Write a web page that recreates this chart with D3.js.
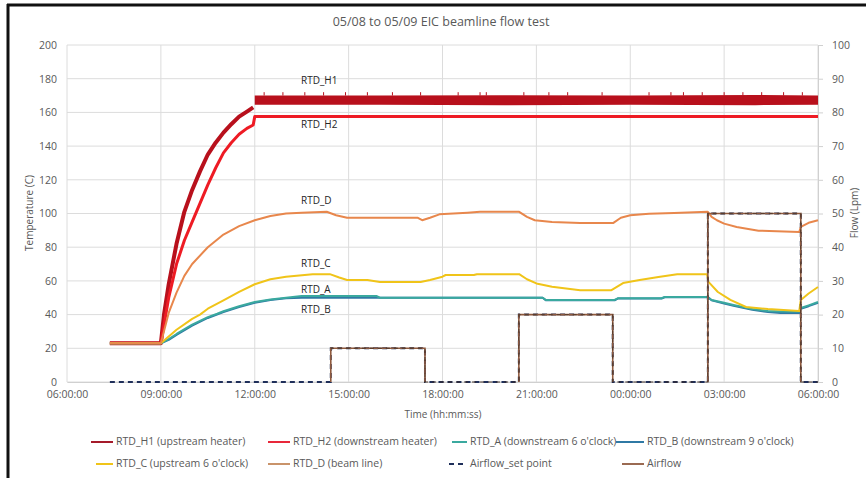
<!DOCTYPE html>
<html>
<head>
<meta charset="utf-8">
<script src="https://cdn.jsdelivr.net/npm/d3@7"></script>
<style>
  body { margin: 0; background: #fff; }
  #chart { width: 866px; height: 478px; }
  text { font-family: "Open Sans", sans-serif; fill: #595959; }
</style>
</head>
<body>
<div id="chart"></div>
<script>
// time values are hours since 05/08 00:00 (values > 24 are on 05/09)
const title = "05/08 to 05/09 EIC beamline flow test";

const h1Rise = [[7.37,23],[9.0,23],[9.1,40],[9.25,58],[9.5,82],[9.75,101],[10.0,114],[10.25,125],[10.5,135],[10.75,142],[11.0,148],[11.25,153],[11.5,157.5],[11.75,160.5],[11.95,163]];
// plateau of RTD_H1 is a noisy band: [time, low, high]
const h1Band = [[12.0,164.5,170],[16.0,164.5,170],[20.0,164.3,170.2],[24.0,164.5,170],[28.0,164.3,170.3],[30.0,164.5,170]];
const h1Spikes = [12.3,12.9,13.6,14.2,14.9,15.6,16.4,17.3,18.5,19.2,19.4,20.6,21.4,22.0,23.1,24.6,25.3,25.7,26.3,27.0,27.6,28.2,28.9,29.5];

const h2 = [[7.37,23],[9.0,23],[9.25,50],[9.5,70],[9.75,84],[10.0,95],[10.25,106],[10.5,117],[10.75,127],[11.0,136],[11.25,142],[11.5,147],[11.75,150.5],[11.95,152.5],[12.0,157.5],[30.0,157.5]];

const rtdA = [[7.37,23],[9.0,23],[9.25,25.5],[9.5,28.5],[10.0,34],[10.5,38.5],[10.8,40.5],[11.0,42],[11.5,45],[12.0,47.5],[12.5,49],[13.0,50],[13.5,51],[15.9,51],[16.0,50],[21.2,50],[21.3,48.7],[23.5,48.7],[23.6,49.7],[25.0,49.7],[25.1,50.5],[26.48,50.5],[26.6,48.7],[27.0,47],[27.3,45.7],[27.9,43.3],[28.4,42.2],[28.8,41.8],[29.4,41.8],[29.45,43.9],[29.7,45.5],[30.0,47.5]];
const rtdB = [[7.37,23],[9.0,23],[9.25,25],[9.5,28],[10.0,33.5],[10.5,38],[11.0,41.5],[11.5,44.5],[12.0,47],[12.5,48.7],[13.0,49.7],[13.5,50],[21.2,50],[21.3,48.5],[23.5,48.5],[23.6,49.5],[25.0,49.5],[25.1,50.3],[26.48,50.3],[26.6,48.5],[27.0,46.5],[27.3,45.2],[27.9,42.8],[28.4,41.5],[28.8,41],[29.4,41],[29.45,43.5],[29.7,45],[30.0,47]];

const rtdC = [[7.37,23],[9.0,23],[9.5,31],[10.0,37.5],[10.25,40],[10.5,43.5],[11.0,48.5],[11.5,53.5],[12.0,58],[12.5,61],[13.0,62.5],[13.85,64],[14.4,64],[14.7,62],[14.95,60.5],[15.6,60.5],[16.0,59.3],[17.3,59.3],[17.6,60.5],[18.0,62.5],[18.1,63.5],[19.0,63.5],[19.1,64],[20.45,64],[20.7,61],[21.0,58.5],[21.5,56.5],[22.4,54.5],[23.4,54.5],[23.77,58.7],[24.3,60.5],[24.9,62.3],[25.5,64],[26.45,64],[26.5,59.4],[26.8,53.4],[27.2,48.7],[27.7,44.5],[28.4,43.3],[29.4,42.1],[29.45,48.7],[29.7,52.5],[30.0,56.4]];

const rtdD = [[7.37,23],[9.0,23],[9.25,41],[9.5,53],[9.75,63],[10.0,70],[10.5,80],[11.0,87.5],[11.5,92.5],[12.0,96],[12.5,98.5],[13.0,100],[13.5,100.5],[14.3,101],[14.6,99],[14.95,97.5],[17.2,97.5],[17.35,96],[17.6,97.5],[17.9,99.5],[18.8,100.5],[19.2,101],[20.45,101],[20.7,98],[20.95,96],[21.5,95],[22.4,94.3],[23.45,94.3],[23.7,97.5],[24.0,99],[24.6,99.8],[25.4,100.3],[26.48,101],[26.6,98],[26.77,96],[27.0,94],[27.4,92],[28.1,89.8],[29.4,89],[29.45,92],[29.7,94.5],[30.0,96]];

// flow (Lpm), right axis
const flowSetPoint = [[7.37,0],[14.43,10],[17.44,0],[20.44,20],[23.44,0],[26.48,50],[29.45,0],[30.0,0]];
const airflowPulses = [[14.43,17.44,10],[20.44,23.44,20],[26.48,29.45,50]];

const seriesLabels = [["RTD_H1",13.48,178.6],["RTD_H2",13.48,152.5],["RTD_D",13.48,107.4],["RTD_C",13.48,70],["RTD_A",13.48,54.6],["RTD_B",13.48,42.7]];

const tempTicks = [0,20,40,60,80,100,120,140,160,180,200];
const flowTicks = [0,10,20,30,40,50,60,70,80,90,100];
const timeTicks = [6,9,12,15,18,21,24,27,30];

const legendItems = [
  {name: "RTD_H1 (upstream heater)", color: "#a51a2a", row: 0, x: 116, len: 22},
  {name: "RTD_H2 (downstream heater)", color: "#e8283a", row: 0, x: 293, len: 22},
  {name: "RTD_A (downstream 6 o'clock)", color: "#3aa99f", row: 0, x: 470, len: 15},
  {name: "RTD_B (downstream 9 o'clock)", color: "#2f79a4", row: 0, x: 647, len: 28},
  {name: "RTD_C (upstream 6 o'clock)", color: "#f0c419", row: 1, x: 116, len: 17},
  {name: "RTD_D (beam line)", color: "#c9936a", row: 1, x: 293, len: 22},
  {name: "Airflow_set point", color: "#1f2f5a", row: 1, x: 470, len: 18, dash: "5,4"},
  {name: "Airflow", color: "#9a6a52", row: 1, x: 647, len: 22}
];

// chart metrics
const width = 866, height = 478;
const marginLeft = 67, marginRight = 48, marginTop = 45, marginBottom = 96;
const plotRight = width - marginRight;
const plotBottom = height - marginBottom;

const base = new Date(2000, 4, 8, 0, 0, 0);
const toDate = (h) => new Date(base.getTime() + h * 3600e3);

const xScale = d3.scaleTime().domain([toDate(6), toDate(30)]).range([marginLeft, plotRight]);
const yScale = d3.scaleLinear().domain([0, 200]).range([plotBottom, marginTop]);
const fScale = d3.scaleLinear().domain([0, 100]).range([plotBottom, marginTop]);

const svg = d3.select("#chart").append("svg").attr("width", width).attr("height", height);

// outer frame (top and left edge visible)
svg.append("line").attr("x1", 7).attr("x2", width).attr("y1", 5).attr("y2", 5).attr("stroke", "#111").attr("stroke-width", 3);
svg.append("line").attr("x1", 8).attr("x2", 8).attr("y1", 4).attr("y2", height).attr("stroke", "#111").attr("stroke-width", 3);

// title
svg.append("text").attr("x", 441).attr("y", 26).attr("text-anchor", "middle")
  .style("font-size", "12.5px").text(title);

// grid
const grid = svg.append("g");
grid.selectAll("line.h").data(tempTicks).join("line")
  .attr("x1", marginLeft).attr("x2", plotRight)
  .attr("y1", d => yScale(d)).attr("y2", d => yScale(d))
  .attr("stroke", "#dcdcdc").attr("stroke-width", 1);
grid.selectAll("line.v").data(timeTicks).join("line")
  .attr("x1", d => xScale(toDate(d))).attr("x2", d => xScale(toDate(d)))
  .attr("y1", marginTop).attr("y2", plotBottom)
  .attr("stroke", "#dcdcdc").attr("stroke-width", 1);

// axes
const xaxis = d3.axisBottom(xScale).tickValues(timeTicks.map(toDate))
  .tickFormat(d3.timeFormat("%H:%M:%S")).tickSize(0).tickPadding(9);
const yaxis = d3.axisLeft(yScale).tickValues(tempTicks).tickSize(0).tickPadding(10);
const faxis = d3.axisRight(fScale).tickValues(flowTicks).tickSize(5).tickPadding(9);

const gx = svg.append("g").attr("transform", `translate(0, ${plotBottom})`).call(xaxis);
const gy = svg.append("g").attr("transform", `translate(${marginLeft}, 0)`).call(yaxis);
const gf = svg.append("g").attr("transform", `translate(${plotRight}, 0)`).call(faxis);
[gx, gy, gf].forEach(g => {
  g.select(".domain").attr("stroke", "#d0d0d0");
  g.selectAll(".tick line").attr("stroke", "#d0d0d0");
  g.selectAll("text").style("font-family", "Open Sans, sans-serif").style("font-size", "10.5px").attr("fill", "#595959");
});
gy.select(".domain").remove();

// axis titles
svg.append("text").attr("x", 443).attr("y", 418).attr("text-anchor", "middle")
  .style("font-size", "10px").text("Time (hh:mm:ss)");
svg.append("text").attr("transform", "translate(33, 213) rotate(-90)").attr("text-anchor", "middle")
  .style("font-size", "10px").text("Temperature (C)");
svg.append("text").attr("transform", "translate(858, 213) rotate(-90)").attr("text-anchor", "middle")
  .style("font-size", "10px").text("Flow (Lpm)");

// series
const lineT = d3.line().x(d => xScale(toDate(d[0]))).y(d => yScale(d[1]));
const lineF = d3.line().x(d => xScale(toDate(d[0]))).y(d => fScale(d[1])).curve(d3.curveStepAfter);
const plot = svg.append("g");

// RTD_H1
plot.append("path").attr("d", lineT(h1Rise)).attr("fill", "none")
  .attr("stroke", "#b8101c").attr("stroke-width", 4).attr("stroke-linejoin", "round");
plot.append("path")
  .attr("d", d3.area().x(d => xScale(toDate(d[0]))).y0(d => yScale(d[1])).y1(d => yScale(d[2]))(h1Band))
  .attr("fill", "#b8101c");
plot.selectAll("line.spike").data(h1Spikes).join("line")
  .attr("x1", d => xScale(toDate(d))).attr("x2", d => xScale(toDate(d)))
  .attr("y1", yScale(170)).attr("y2", yScale(172))
  .attr("stroke", "#b8101c").attr("stroke-width", 1);

// RTD_H2
plot.append("path").attr("d", lineT(h2)).attr("fill", "none")
  .attr("stroke", "#ee1b24").attr("stroke-width", 3).attr("stroke-linejoin", "round");

const thin = [[rtdB, "#2f79a4"], [rtdA, "#3aa99f"], [rtdC, "#f0c419"], [rtdD, "#e8874c"]];
thin.forEach(([data, color]) => {
  plot.append("path").attr("d", lineT(data)).attr("fill", "none")
    .attr("stroke", color).attr("stroke-width", 2).attr("stroke-linejoin", "round");
});

// Airflow_set point (dashed)
plot.append("path").attr("d", lineF(flowSetPoint)).attr("fill", "none")
  .attr("stroke", "#1f2f5a").attr("stroke-width", 2).attr("stroke-dasharray", "5,4");

// Airflow (solid, under dashes only where non-zero)
plot.selectAll("path.air").data(airflowPulses).join("path")
  .attr("d", d => lineF([[d[0], 0], [d[0], d[2]], [d[1], 0], [d[1], 0]]))
  .attr("fill", "none").attr("stroke", "#8f5a3e").attr("stroke-width", 1.6);
plot.append("path").attr("d", lineF(flowSetPoint.filter(d => d[0] > 14))).attr("fill", "none")
  .attr("stroke", "#3a2a22").attr("stroke-width", 1.4).attr("stroke-dasharray", "4,4")
  .attr("stroke-dashoffset", 1).attr("opacity", 0.6);

// series labels
svg.selectAll("text.lbl").data(seriesLabels).join("text")
  .attr("x", d => xScale(toDate(d[1]))).attr("y", d => yScale(d[2]))
  .attr("dominant-baseline", "middle")
  .style("font-size", "10px").style("fill", "#262626").text(d => d[0]);

// legend
const legend = svg.append("g");
const rowY = [442, 464];
legendItems.forEach(it => {
  const y = rowY[it.row];
  legend.append("line").attr("x1", it.x - 3 - it.len).attr("x2", it.x - 3)
    .attr("y1", y).attr("y2", y).attr("stroke", it.color).attr("stroke-width", 2)
    .attr("stroke-dasharray", it.dash || null);
  legend.append("text").attr("x", it.x).attr("y", y).attr("dominant-baseline", "middle")
    .style("font-size", "10.5px").text(it.name);
});
</script>
</body>
</html>
